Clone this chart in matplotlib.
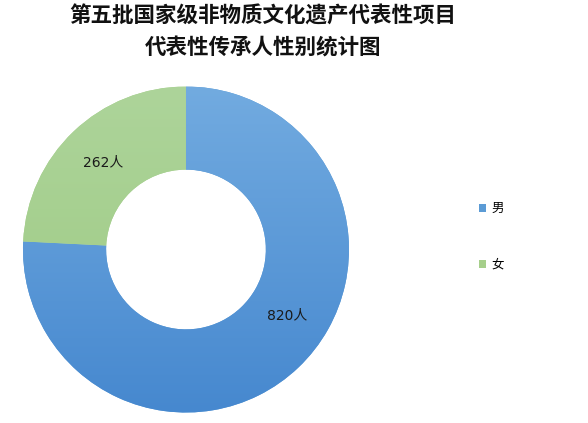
import numpy as np
import matplotlib
matplotlib.use('Agg')
from matplotlib import pyplot as plt
from matplotlib.colors import LinearSegmentedColormap

plt.rcParams['font.family'] = ['Noto Sans CJK SC', 'DejaVu Sans']

# data
categories = ['男', '女']
counts = [820, 262]
value_labels = ['820人', '262人']
colors = ['#5b9bd5', '#a6cf8b']
title_lines = ['第五批国家级非物质文化遗产代表性项目', '代表性传承人性别统计图']

fig = plt.figure(figsize=(5.88, 4.23), dpi=100)
fig.patch.set_facecolor('white')

# square axes for the donut
ax = fig.add_axes([0.0391, 0.0248, 0.5544, 0.7707])
wedges, _ = ax.pie(counts, colors=colors, startangle=90, counterclock=False,
                   radius=1.0, wedgeprops=dict(width=0.51, edgecolor='none'))
ax.set_xlim(-1, 1)
ax.set_ylim(-1, 1)
ax.set_aspect('equal')
ax.axis('off')

# soft vertical gradient like the office chart
grads = [('#72abe0', '#4688cf'), ('#add49a', '#9dca82')]
for w, (c1, c2) in zip(wedges, grads):
    cmap = LinearSegmentedColormap.from_list('g', [c2, c1])
    g = np.linspace(0, 1, 256).reshape(-1, 1)
    im = ax.imshow(g, cmap=cmap, extent=[-1, 1, -1, 1], origin='lower',
                   aspect='auto', zorder=w.get_zorder() + 0.1)
    im.set_clip_path(w)

# value labels, placed at an angle inside each ring segment
total = float(sum(counts))
label_angles = [-33.0, 133.6]  # degrees
for txt, ang in zip(value_labels, label_angles):
    r = 0.74
    a = np.deg2rad(ang)
    ax.text(r * np.cos(a), r * np.sin(a), txt, ha='center', va='center',
            fontsize=10, color='#1a1a1a', zorder=10,
            family=['DejaVu Sans', 'Noto Sans CJK SC'])

# legend
leg = fig.legend(wedges, categories, loc='center left',
                 bbox_to_anchor=(0.795, 0.44), frameon=False, fontsize=9,
                 handlelength=0.6, handleheight=0.6, handletextpad=0.4,
                 labelspacing=3.5)

# title
fig.text(0.447, 0.963, title_lines[0], ha='center', va='center',
         fontsize=15.5, fontweight='bold', color='#111111')
fig.text(0.447, 0.886, title_lines[1], ha='center', va='center',
         fontsize=15.5, fontweight='bold', color='#111111')

fig.savefig('out.png', dpi=100, facecolor='white')
